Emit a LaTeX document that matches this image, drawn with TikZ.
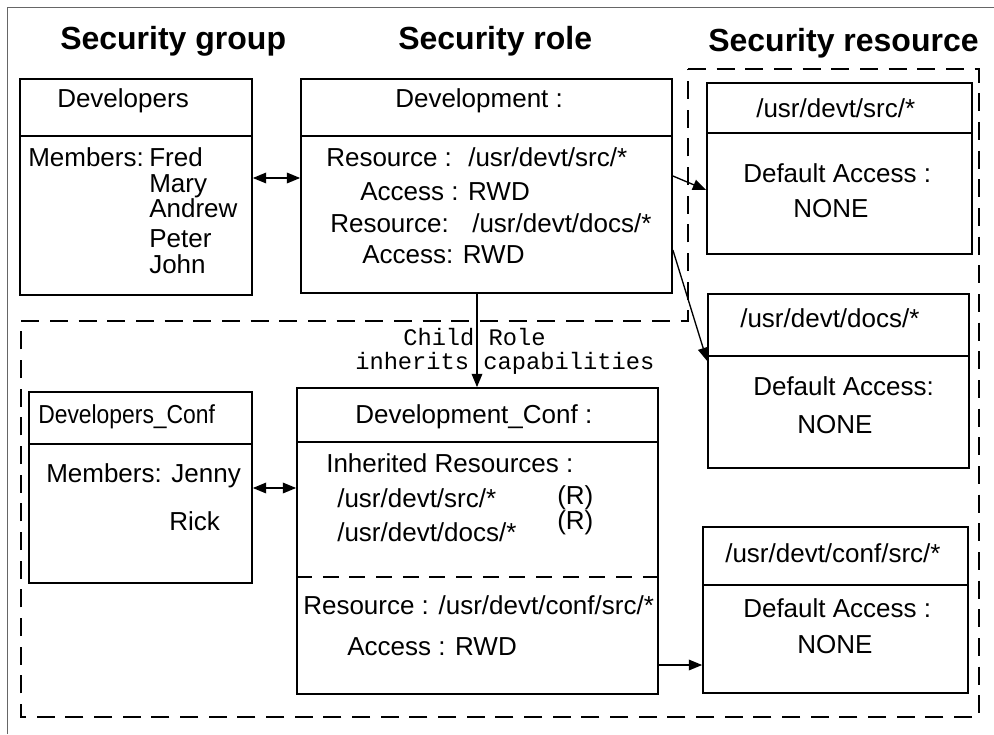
\documentclass[tikz,border=0pt]{standalone}
\usepackage{fontspec}
\usepackage{graphicx}
\setmainfont{Liberation Sans}
\newfontfamily\codefont{Liberation Mono}
\usetikzlibrary{arrows.meta,fit}

\tikzset{
  boxframe/.style={draw=black, line width=1.3pt, inner sep=0pt},
  divider/.style={draw=black, line width=1.3pt},
  softdivider/.style={draw=black, line width=1.3pt, dash pattern=on 12pt off 8pt},
  region/.style={draw=black, line width=1.3pt, dash pattern=on 13.5pt off 8pt},
  txt/.style={anchor=base west, inner sep=0pt, font=\fontsize{19.5}{23}\selectfont},
  ttl/.style={anchor=base west, inner sep=0pt, font=\fontsize{24}{28}\selectfont\bfseries},
  codetxt/.style={anchor=base west, inner sep=0pt, font=\codefont\fontsize{17.8}{21}\selectfont},
  conn/.style={draw=black, line width=1pt, -{Triangle[length=10pt,width=8pt]}},
  biconn/.style={draw=black, line width=1pt, {Triangle[length=10pt,width=8pt]}-{Triangle[length=10pt,width=8pt]}},
  pageframe/.style={draw=black!60, line width=1.4pt}
}

\begin{document}
\begin{tikzpicture}[x=0.75pt, y=-0.75pt]
  \useasboundingbox (0,0) rectangle (994,734);

  % page frame (top and left edges)
  \draw[pageframe] (7.5,734) -- (7.5,7.5) -- (994,7.5);

  % column headings
  \node[ttl] (hgroup) at (60,50) {Security group};
  \node[ttl] (hrole) at (398,50) {Security role};
  \node[ttl] (hres) at (708,52) {Security resource};

  % dashed regions: resources column joined with the child-role area
  \draw[region] (688,69) -- (979,69) -- (979,717) -- (21,717) -- (21,321) -- (688,321) -- cycle;

  % ---------- security group: Developers ----------
  \node[boxframe, fit={(20,79) (252,295)}] (devgrp) {};
  \draw[divider] (devgrp.west |- 0,136) -- (devgrp.east |- 0,136);
  \node[txt] (devgrpname) at (57,108) {Developers};
  \node[txt] (devgrpmem) at (28,167) {Members:};
  \node[txt] (mfred) at (149,167) {Fred};
  \node[txt] (mmary) at (149,193) {Mary};
  \node[txt] (mandrew) at (149,217) {Andrew};
  \node[txt] (mpeter) at (149,247) {Peter};
  \node[txt] (mjohn) at (149,273) {John};

  % ---------- security role: Development ----------
  \node[boxframe, fit={(301,79) (672,293)}] (devrole) {};
  \draw[divider] (devrole.west |- 0,136) -- (devrole.east |- 0,136);
  \node[txt] (devrolename) at (395,108) {Development :};
  \node[txt] (rres1) at (326,167) {Resource :};
  \node[txt] (rres1path) at (468,167) {/usr/devt/src/*};
  \node[txt] (racc1) at (360,200) {Access : RWD};
  \node[txt] (rres2) at (330,233) {Resource:};
  \node[txt] (rres2path) at (472,233) {/usr/devt/docs/*};
  \node[txt] (racc2) at (362,263) {Access: RWD};

  % ---------- resources ----------
  \node[boxframe, fit={(707,83) (972,254)}] (res1) {};
  \draw[divider] (res1.west |- 0,133) -- (res1.east |- 0,133);
  \node[txt] (res1name) at (756,118) {/usr/devt/src/*};
  \node[txt] (res1acc) at (743,183) {Default Access :};
  \node[txt] (res1val) at (793,218) {NONE};

  \node[boxframe, fit={(708,294) (969,468)}] (res2) {};
  \draw[divider] (res2.west |- 0,356) -- (res2.east |- 0,356);
  \node[txt] (res2name) at (740,327) {/usr/devt/docs/*};
  \node[txt] (res2acc) at (753,395) {Default Access:};
  \node[txt] (res2val) at (797,433) {NONE};

  \node[boxframe, fit={(703,527) (968,693)}] (res3) {};
  \draw[divider] (res3.west |- 0,585) -- (res3.east |- 0,585);
  \node[txt] (res3name) at (725,562) {/usr/devt/conf/src/*};
  \node[txt] (res3acc) at (743,617) {Default Access :};
  \node[txt] (res3val) at (797,653) {NONE};

  % ---------- child group: Developers_Conf ----------
  \node[boxframe, fit={(29,392) (252,583)}] (confgrp) {};
  \draw[divider] (confgrp.west |- 0,444) -- (confgrp.east |- 0,444);
  \node[txt] (confgrpname) at (38,423) {\scalebox{0.88}[1]{Developers\_Conf}};
  \node[txt] (confgrpmem) at (46,482) {Members: Jenny};
  \node[txt] (mrick) at (169,530) {Rick};

  % ---------- child role: Development_Conf ----------
  \node[boxframe, fit={(297,388) (658,694)}] (confrole) {};
  \draw[divider] (confrole.west |- 0,442) -- (confrole.east |- 0,442);
  \draw[softdivider] (confrole.west |- 0,577) -- (confrole.east |- 0,577);
  \node[txt] (confrolename) at (355,423) {Development\_Conf :};
  \node[txt] (inhhead) at (326,472) {Inherited Resources :};
  \node[txt] (inhsrc) at (337,507) {/usr/devt/src/*};
  \node[txt] (inhdocs) at (337,541) {/usr/devt/docs/*};
  \node[txt] (inhsrcr) at (557,504) {(R)};
  \node[txt] (inhdocsr) at (557,529) {(R)};
  \node[txt] (cres) at (303,614) {Resource : /usr/devt/conf/src/*};
  \node[txt] (cacc) at (347,655) {Access : RWD};

  % inheritance label
  \node[codetxt] (inhlbl1) at (403,345) {Child Role};
  \node[codetxt] (inhlbl2) at (355,369) {inherits capabilities};

  % ---------- connectors ----------
  \draw[biconn] (devgrp.east |- 0,178) -- (devrole.west |- 0,178);
  \draw[biconn] (confgrp.east |- 0,488) -- (confrole.west |- 0,488);
  \draw[conn] (devrole.east |- 0,176) -- (res1.west |- 0,190);
  \draw[conn] (devrole.east |- 0,250) -- (res2.west |- 0,361);
  \draw[conn] (confrole.east |- 0,665) -- (res3.west |- 0,665);
  \draw[conn] (devrole.south -| 477,0) -- (confrole.north -| 477,0);
\end{tikzpicture}
\end{document}
